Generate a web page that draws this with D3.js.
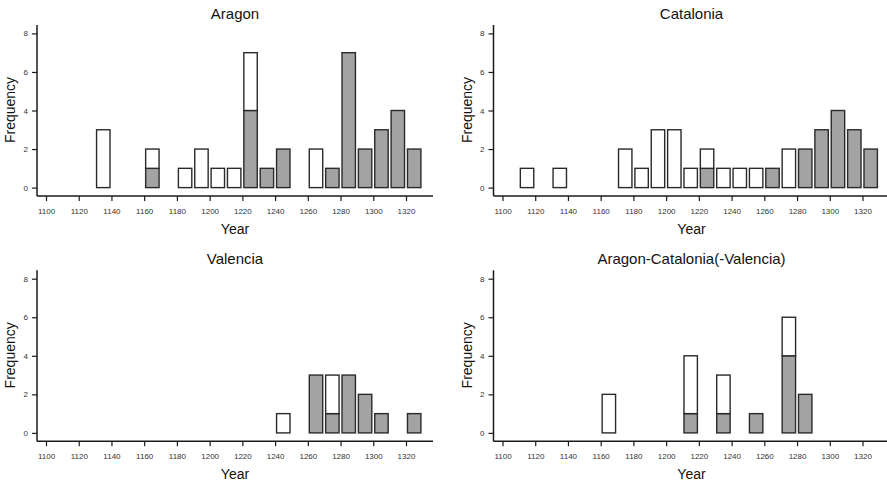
<!DOCTYPE html>
<html>
<head>
<meta charset="utf-8">
<script src="https://cdn.jsdelivr.net/npm/d3@7"></script>
<style>
  html, body { margin: 0; padding: 0; background: #fff; }
  svg { display: block; }
  text { font-family: "Liberation Sans", Arial, Helvetica, sans-serif; }
</style>
</head>
<body>
<svg id="chart" width="887" height="486"></svg>
<script>
// ---- data (bin start year of each 10-year bin) ----
const xTicks = [1100, 1120, 1140, 1160, 1180, 1200, 1220, 1240, 1260, 1280, 1300, 1320];
const yTicks = [0, 2, 4, 6, 8];

const aragonBins  = [1130, 1160, 1180, 1190, 1200, 1210, 1220, 1230, 1240, 1260, 1270, 1280, 1290, 1300, 1310, 1320];
const aragonGray  = [0, 1, 0, 0, 0, 0, 4, 1, 2, 0, 1, 7, 2, 3, 4, 2];
const aragonWhite = [3, 1, 1, 2, 1, 1, 3, 0, 0, 2, 0, 0, 0, 0, 0, 0];

const cataloniaBins  = [1110, 1130, 1170, 1180, 1190, 1200, 1210, 1220, 1230, 1240, 1250, 1260, 1270, 1280, 1290, 1300, 1310, 1320];
const cataloniaGray  = [0, 0, 0, 0, 0, 0, 0, 1, 0, 0, 0, 1, 0, 2, 3, 4, 3, 2];
const cataloniaWhite = [1, 1, 2, 1, 3, 3, 1, 1, 1, 1, 1, 0, 2, 0, 0, 0, 0, 0];

const valenciaBins  = [1240, 1260, 1270, 1280, 1290, 1300, 1320];
const valenciaGray  = [0, 3, 1, 3, 2, 1, 1];
const valenciaWhite = [1, 0, 2, 0, 0, 0, 0];

const acvBins  = [1160, 1210, 1230, 1250, 1270, 1280];
const acvGray  = [0, 1, 1, 1, 4, 2];
const acvWhite = [2, 3, 2, 0, 2, 0];

const panelTitles = ["Aragon", "Catalonia", "Valencia", "Aragon-Catalonia(-Valencia)"];

// ---- build panels ----
const panels = [
  { title: panelTitles[0], bins: aragonBins, gray: aragonGray, white: aragonWhite, col: 0, row: 0 },
  { title: panelTitles[1], bins: cataloniaBins, gray: cataloniaGray, white: cataloniaWhite, col: 1, row: 0 },
  { title: panelTitles[2], bins: valenciaBins, gray: valenciaGray, white: valenciaWhite, col: 0, row: 1 },
  { title: panelTitles[3], bins: acvBins, gray: acvGray, white: acvWhite, col: 1, row: 1 }
];

const svg = d3.select("#chart");
const colX = [37, 493.5];
const rowY = [0, 245.3];
const binWidth = 10, pad = 0.9;

panels.forEach(p => {
  const ax = colX[p.col];
  const oy = rowY[p.row];
  const g = svg.append("g");

  const x = d3.scaleLinear().domain([1100, 1320]).range([ax + 9, ax + 369]);
  const y = d3.scaleLinear().domain([0, 8]).range([oy + 187.6, oy + 33.4]);
  const axisY = oy + 196;

  // bars: gray lower part, white upper part
  const data = p.bins.map((b, i) => ({ b, gray: p.gray[i], white: p.white[i] }));
  data.forEach(d => {
    if (d.gray > 0) {
      g.append("rect")
        .attr("x", x(d.b + pad)).attr("width", x(d.b + binWidth - pad) - x(d.b + pad))
        .attr("y", y(d.gray)).attr("height", y(0) - y(d.gray))
        .attr("fill", "#a3a3a3").attr("stroke", "#2a2a2a").attr("stroke-width", 1.4);
    }
    if (d.white > 0) {
      g.append("rect")
        .attr("x", x(d.b + pad)).attr("width", x(d.b + binWidth - pad) - x(d.b + pad))
        .attr("y", y(d.gray + d.white)).attr("height", y(d.gray) - y(d.gray + d.white))
        .attr("fill", "#ffffff").attr("stroke", "#2a2a2a").attr("stroke-width", 1.4);
    }
  });

  // x axis
  const xa = g.append("g").attr("transform", `translate(0,${axisY})`)
    .call(d3.axisBottom(x).tickValues(xTicks).tickFormat(d3.format("d")).tickSize(5).tickPadding(7));
  xa.select(".domain").remove();
  xa.append("line").attr("x1", ax).attr("x2", ax + 396).attr("y1", 0).attr("y2", 0)
    .attr("stroke", "#1a1a1a").attr("stroke-width", 1.5);
  xa.selectAll(".tick line").attr("stroke", "#1a1a1a").attr("stroke-width", 1.2);
  xa.selectAll(".tick text").attr("fill", "#333").style("font-size", "8px")
    .style("font-family", "'Liberation Sans', Arial, sans-serif");

  // y axis
  const ya = g.append("g").attr("transform", `translate(${ax},0)`)
    .call(d3.axisLeft(y).tickValues(yTicks).tickSize(5).tickPadding(4));
  ya.select(".domain").remove();
  ya.append("line").attr("x1", 0).attr("x2", 0).attr("y1", oy + 25).attr("y2", axisY)
    .attr("stroke", "#1a1a1a").attr("stroke-width", 1.5);
  ya.selectAll(".tick line").attr("stroke", "#1a1a1a").attr("stroke-width", 1.2);
  ya.selectAll(".tick text").attr("fill", "#333").style("font-size", "8px")
    .style("font-family", "'Liberation Sans', Arial, sans-serif");

  // titles
  const cx = ax + 198;
  g.append("text").attr("x", cx).attr("y", oy + 19).attr("text-anchor", "middle")
    .style("font-size", "15px").attr("fill", "#111").text(p.title);
  g.append("text").attr("x", cx).attr("y", oy + 234).attr("text-anchor", "middle")
    .style("font-size", "14px").attr("fill", "#111").text("Year");
  g.append("text").attr("transform", `translate(${ax - 22},${oy + 110}) rotate(-90)`)
    .attr("text-anchor", "middle").style("font-size", "14px").attr("fill", "#111").text("Frequency");
});
</script>
</body>
</html>
